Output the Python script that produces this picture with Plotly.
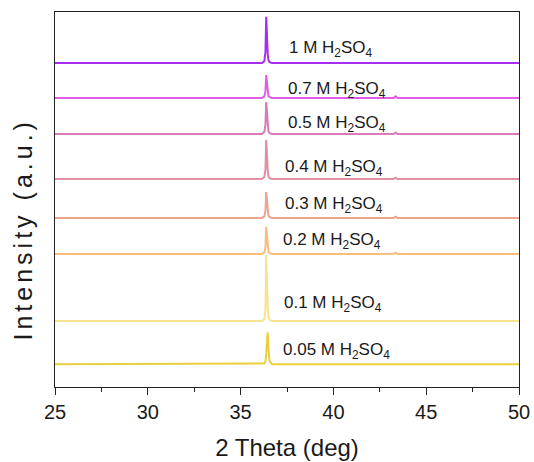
import plotly.graph_objects as go

# XRD patterns of samples grown in different H2SO4 concentrations
two_theta = [25.0, 36.15, 36.28, 36.34, 36.38, 36.42, 36.46, 36.50, 36.56, 36.70,
             43.25, 43.35, 43.45, 50.0]

labels = ["0.05 M H<sub>2</sub>SO<sub>4</sub>", "0.1 M H<sub>2</sub>SO<sub>4</sub>",
          "0.2 M H<sub>2</sub>SO<sub>4</sub>", "0.3 M H<sub>2</sub>SO<sub>4</sub>",
          "0.4 M H<sub>2</sub>SO<sub>4</sub>", "0.5 M H<sub>2</sub>SO<sub>4</sub>",
          "0.7 M H<sub>2</sub>SO<sub>4</sub>", "1 M H<sub>2</sub>SO<sub>4</sub>"]

# relative intensities (a.u.) on the two_theta grid
i_005 = [0, 0, 0.2, 0.8, 2.5, 6.0, 8.5, 4.0, 0.8, 0, 0, 0.1, 0, 0]
i_01 = [0, 0, 0.5, 3.0, 17.6, 9.0, 4.0, 1.2, 0.3, 0, 0, 0.1, 0, 0]
i_02 = [0, 0, 0.4, 2.0, 7.2, 4.0, 2.0, 0.6, 0.2, 0, 0, 0.3, 0, 0]
i_03 = [0, 0, 0.4, 2.0, 6.9, 4.0, 2.0, 0.6, 0.2, 0, 0, 0.3, 0, 0]
i_04 = [0, 0, 0.5, 2.5, 10.4, 5.5, 2.5, 0.8, 0.2, 0, 0, 0.3, 0, 0]
i_05 = [0, 0, 0.5, 2.5, 8.5, 5.0, 2.2, 0.7, 0.2, 0, 0, 0.3, 0, 0]
i_07 = [0, 0, 0.4, 1.8, 6.1, 3.5, 1.6, 0.5, 0.2, 0, 0, 0.4, 0, 0]
i_1 = [0, 0, 0.5, 3.0, 12.3, 6.0, 2.5, 0.8, 0.2, 0, 0, 0.1, 0, 0]

intensities = [i_005, i_01, i_02, i_03, i_04, i_05, i_07, i_1]
offsets = [6.1, 17.6, 35.5, 45.1, 55.5, 67.5, 77.1, 86.4]
label_x = [37.18, 37.25, 37.2, 37.3, 37.3, 37.45, 37.45, 37.5]
label_y = [9.6, 22.1, 38.9, 48.5, 58.4, 70.1, 79.2, 90.1]

colors = ["#e9cf3e", "#f7e28f", "#f9bd7c", "#eca48c", "#e28fa2",
          "#d97ab9", "#e05ee6", "#a52ef0"]

fig = go.Figure()
for lab, inten, off, col in zip(labels, intensities, offsets, colors):
    fig.add_trace(go.Scatter(
        x=two_theta, y=[v + off for v in inten], mode="lines",
        line=dict(color=col, width=2), name=lab, showlegend=False,
        hoverinfo="skip"))

for lab, lx, ly in zip(labels, label_x, label_y):
    fig.add_annotation(x=lx, y=ly, text=lab, showarrow=False,
                       xanchor="left", yanchor="middle",
                       font=dict(family="Liberation Sans, Arial", size=17, color="#1a1a1a"))

# vertical axis title, placed as a rotated annotation
fig.add_annotation(xref="paper", yref="paper", x=-0.069, y=0.42,
                   text='<span style="letter-spacing:4px">Intensity (a.u.)</span>',
                   textangle=-90, showarrow=False, xanchor="center", yanchor="middle",
                   font=dict(family="Liberation Sans, Arial", size=25, color="#1a1a1a"))

fig.update_layout(
    width=534, height=462,
    margin=dict(l=55, r=15, t=12, b=75, autoexpand=False),
    paper_bgcolor="white", plot_bgcolor="white",
    font=dict(family="Liberation Sans, Arial", color="#1a1a1a"),
    xaxis=dict(range=[25, 50], dtick=5, tick0=25, automargin=False,
               ticks="outside", ticklen=7, tickwidth=1, tickcolor="#222",
               minor=dict(ticks="outside", ticklen=4, dtick=2.5, tickcolor="#222"),
               showline=True, linecolor="#222", linewidth=1, mirror=True,
               showgrid=False, zeroline=False,
               tickfont=dict(size=20),
               title=dict(text="2 Theta (deg)", font=dict(size=24), standoff=17)),
    yaxis=dict(range=[0, 100], showticklabels=False, ticks="", automargin=False,
               showline=True, linecolor="#222", linewidth=1, mirror=True,
               showgrid=False, zeroline=False),
)

fig.write_html("out.html")
